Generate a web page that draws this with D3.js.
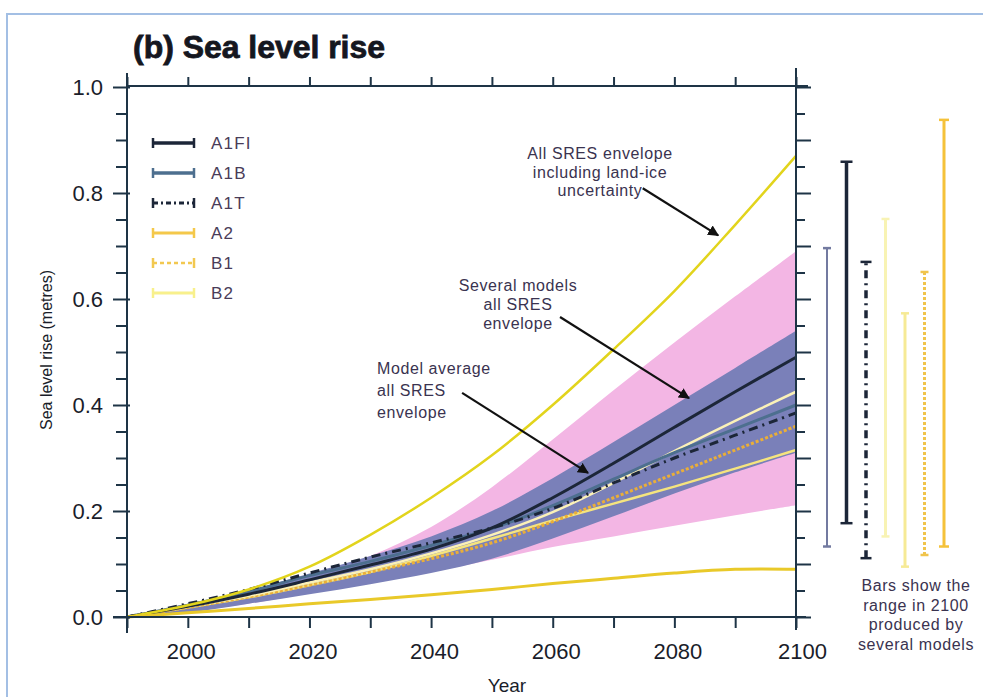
<!DOCTYPE html>
<html>
<head>
<meta charset="utf-8">
<script src="https://cdn.jsdelivr.net/npm/d3@7"></script>
<style>
  body { margin: 0; background: #fff; }
  svg { display: block; font-family: "Liberation Sans", Arial, sans-serif; }
  .axis path, .axis line { stroke: #1e3446; stroke-width: 2; }
  .axis text { fill: #1a1d2a; font-size: 22px; font-family: "Liberation Sans", Arial, sans-serif; }
  .note { fill: #3a3350; font-size: 16px; letter-spacing: 0.6px; }
</style>
</head>
<body>
<svg id="chart" width="983" height="697"></svg>
<script>
// years sampled every decade
const years = [1990, 2000, 2010, 2020, 2030, 2040, 2050, 2060, 2070, 2080, 2090, 2100];

// envelopes (metres)
const pinkUpper = [0, 0.02, 0.045, 0.075, 0.115, 0.17, 0.245, 0.335, 0.428, 0.518, 0.605, 0.69];
const pinkLower = [0, 0.01, 0.025, 0.045, 0.065, 0.085, 0.108, 0.132, 0.152, 0.172, 0.192, 0.211];
const blueUpper = [0, 0.025, 0.05, 0.082, 0.115, 0.152, 0.2, 0.262, 0.33, 0.4, 0.47, 0.54];
const blueLower = [0, 0.008, 0.025, 0.043, 0.062, 0.083, 0.11, 0.148, 0.19, 0.233, 0.273, 0.31];
const iceUpper = [0, 0.022, 0.052, 0.095, 0.155, 0.225, 0.305, 0.40, 0.505, 0.615, 0.74, 0.87];
const iceLower = [0, 0.008, 0.016, 0.025, 0.033, 0.042, 0.052, 0.063, 0.073, 0.083, 0.09, 0.09];

// scenario model averages
const a1fi = [0, 0.02, 0.043, 0.07, 0.098, 0.128, 0.168, 0.225, 0.29, 0.358, 0.425, 0.49];
const a1b = [0, 0.022, 0.048, 0.078, 0.105, 0.135, 0.167, 0.21, 0.26, 0.31, 0.355, 0.40];
const a1t = [0, 0.025, 0.052, 0.083, 0.113, 0.14, 0.168, 0.205, 0.253, 0.30, 0.343, 0.385];
const a2 = [0, 0.02, 0.04, 0.065, 0.09, 0.12, 0.155, 0.198, 0.253, 0.313, 0.37, 0.425];
const b1 = [0, 0.018, 0.038, 0.06, 0.085, 0.11, 0.14, 0.18, 0.225, 0.27, 0.315, 0.36];
const b2 = [0, 0.018, 0.037, 0.06, 0.085, 0.115, 0.148, 0.182, 0.214, 0.246, 0.28, 0.315];

// ranges in 2100 (right-hand bars)
const barKeys = ["A1B", "A1FI", "A1T", "B2", "B2b", "B1", "A2"];
const barLow = [0.133, 0.177, 0.111, 0.152, 0.095, 0.117, 0.133];
const barHigh = [0.696, 0.859, 0.67, 0.751, 0.573, 0.651, 0.938];

const legendKeys = ["A1FI", "A1B", "A1T", "A2", "B1", "B2"];
const yTicks = [0, 0.2, 0.4, 0.6, 0.8, 1.0];
const xTicks = [2000, 2020, 2040, 2060, 2080, 2100];

const styles = {
  A1FI: { color: "#1c2638", width: 3, dash: null },
  A1B: { color: "#4d6f8f", width: 3, dash: null },
  A1T: { color: "#1c2638", width: 3, dash: "9,5,2,5" },
  A2: { color: "#fbf1b8", width: 2.5, dash: null },
  B1: { color: "#eaae38", width: 3, dash: "3,2" },
  B2: { color: "#f5e47e", width: 2.5, dash: null }
};
const legendStyles = {
  A1FI: { color: "#1c2638", width: 3.5, dash: null },
  A1B: { color: "#4d6f8f", width: 3.5, dash: null },
  A1T: { color: "#1c2638", width: 3, dash: "5,3,2,3" },
  A2: { color: "#f4c84a", width: 3, dash: null },
  B1: { color: "#f2c850", width: 2.5, dash: "4,3" },
  B2: { color: "#f8f08c", width: 3, dash: null }
};
const barStyles = {
  A1B: { color: "#737aa0", width: 2, dash: null, cap: 8 },
  A1FI: { color: "#1c2638", width: 3.5, dash: null, cap: 12 },
  A1T: { color: "#1c2638", width: 3.5, dash: "8,5,2,5", cap: 11 },
  B2: { color: "#f8f3b4", width: 3, dash: null, cap: 8 },
  B2b: { color: "#f6ea96", width: 3, dash: null, cap: 8 },
  B1: { color: "#f0c44c", width: 3, dash: "3,2", cap: 8 },
  A2: { color: "#f5c23a", width: 3, dash: null, cap: 10 }
};

const svg = d3.select("#chart");

const x = d3.scaleLinear().domain([1990, 2100]).range([127, 796]);
const y = d3.scaleLinear().domain([0, 1]).range([617, 87]);

// outer frame
svg.append("rect")
  .attr("x", 7).attr("y", 14)
  .attr("width", 1000).attr("height", 700)
  .attr("fill", "none")
  .attr("stroke", "#a3bfe4")
  .attr("stroke-width", 2);

// title
svg.append("text")
  .attr("x", 133).attr("y", 58)
  .attr("font-size", 31)
  .attr("font-weight", "bold")
  .attr("fill", "#15171f")
  .attr("stroke", "#15171f")
  .attr("stroke-width", 0.8)
  .attr("textLength", 252)
  .attr("lengthAdjust", "spacingAndGlyphs")
  .text("(b) Sea level rise");

// envelopes
const area = (lo, hi) => d3.area()
  .x((d, i) => x(years[i]))
  .y0((d, i) => y(lo[i]))
  .y1((d, i) => y(hi[i]))
  .curve(d3.curveCatmullRom)(years);

svg.append("path").attr("d", area(pinkLower, pinkUpper)).attr("fill", "#f3b6e4");
svg.append("path").attr("d", area(blueLower, blueUpper)).attr("fill", "#7a80b9");

const line = d3.line()
  .x((d, i) => x(years[i]))
  .y(d => y(d))
  .curve(d3.curveCatmullRom);

// scenario lines
const series = [["B2", b2], ["B1", b1], ["A2", a2], ["A1B", a1b], ["A1T", a1t], ["A1FI", a1fi]];
series.forEach(([k, vals]) => {
  const s = styles[k];
  svg.append("path")
    .attr("d", line(vals))
    .attr("fill", "none")
    .attr("stroke", s.color)
    .attr("stroke-width", s.width)
    .attr("stroke-dasharray", s.dash);
});

// land-ice envelope lines
svg.append("path").attr("d", line(iceUpper)).attr("fill", "none")
  .attr("stroke", "#e2d41c").attr("stroke-width", 2.5);
svg.append("path").attr("d", line(iceLower)).attr("fill", "none")
  .attr("stroke", "#e9c929").attr("stroke-width", 3);

// axes
const yMinor = d3.range(0, 1.0001, 0.05).map(v => +v.toFixed(2));
const xMinor = d3.range(1990, 2101, 10);
const isMajorY = v => yTicks.some(t => Math.abs(t - v) < 1e-6);

const gl = svg.append("g").attr("class", "axis")
  .attr("transform", "translate(127,0)")
  .call(d3.axisLeft(y).tickValues(yMinor).tickSize(12).tickPadding(10)
    .tickFormat(v => isMajorY(v) ? d3.format(".1f")(v) : ""));
gl.select(".domain").remove();
gl.selectAll(".tick line").attr("x1", d => isMajorY(d) ? 3 : 0).attr("x2", d => isMajorY(d) ? -14 : -11);
gl.selectAll(".tick text").attr("x", -24);

const gr = svg.append("g").attr("class", "axis")
  .attr("transform", "translate(796,0)")
  .call(d3.axisRight(y).tickValues(yMinor).tickSize(14).tickFormat(""));
gr.select(".domain").remove();
gr.selectAll(".tick line").attr("x2", d => (Math.round(d * 100) % 10 === 0) ? 15 : 9);

const gt = svg.append("g").attr("class", "axis")
  .attr("transform", "translate(0,86)")
  .call(d3.axisTop(x).tickValues(xMinor).tickSize(9).tickFormat(""));
gt.select(".domain").remove();

const gb = svg.append("g").attr("class", "axis")
  .attr("transform", "translate(0,617)")
  .call(d3.axisBottom(x).tickValues(xMinor).tickSize(11).tickPadding(15)
    .tickFormat(v => xTicks.includes(v) ? v : ""));
gb.select(".domain").remove();
gb.selectAll(".tick text").attr("dx", d => d === 2100 ? 6 : 3);

// frame lines of the axes
const frame = svg.append("g").attr("stroke", "#1e3446").attr("stroke-width", 2);
frame.append("line").attr("x1", x(1990)).attr("x2", x(1990)).attr("y1", 73).attr("y2", 633);
frame.append("line").attr("x1", x(2100)).attr("x2", x(2100)).attr("y1", 68).attr("y2", 630);
frame.append("line").attr("x1", x(1990)).attr("x2", 808).attr("y1", 86).attr("y2", 86);
frame.append("line").attr("x1", 113).attr("x2", x(2100) + 10).attr("y1", 617).attr("y2", 617);

// axis titles
svg.append("text")
  .attr("transform", "translate(52,350) rotate(-90)")
  .attr("text-anchor", "middle")
  .attr("font-size", 16)
  .attr("fill", "#1a1d2a")
  .text("Sea level rise (metres)");
svg.append("text")
  .attr("x", 507).attr("y", 692)
  .attr("text-anchor", "middle")
  .attr("font-size", 19)
  .attr("fill", "#1a1d2a")
  .text("Year");

// legend
const legendY = d3.scalePoint().domain(legendKeys).range([143, 293]);
const lg = svg.append("g");
legendKeys.forEach(k => {
  const s = legendStyles[k];
  const yy = legendY(k);
  const g = lg.append("g").attr("stroke", s.color);
  g.append("line").attr("x1", 153).attr("x2", 194).attr("y1", yy).attr("y2", yy)
    .attr("stroke-width", s.width).attr("stroke-dasharray", s.dash);
  g.append("line").attr("x1", 153).attr("x2", 153).attr("y1", yy - 5).attr("y2", yy + 5).attr("stroke-width", 2.5);
  g.append("line").attr("x1", 194).attr("x2", 194).attr("y1", yy - 5).attr("y2", yy + 5).attr("stroke-width", 2.5);
  lg.append("text")
    .attr("x", 211).attr("y", yy + 6)
    .attr("font-size", 17)
    .attr("letter-spacing", 1.2)
    .attr("fill", "#4a3c58")
    .text(k);
});

// bars at 2100
const bx = d3.scalePoint().domain(barKeys).range([827, 944]);
barKeys.forEach((k, i) => {
  const s = barStyles[k];
  const g = svg.append("g").attr("stroke", s.color);
  g.append("line").attr("x1", bx(k)).attr("x2", bx(k))
    .attr("y1", y(barLow[i])).attr("y2", y(barHigh[i]))
    .attr("stroke-width", s.width).attr("stroke-dasharray", s.dash);
  [barLow[i], barHigh[i]].forEach(v => {
    g.append("line").attr("x1", bx(k) - s.cap / 2).attr("x2", bx(k) + s.cap / 2)
      .attr("y1", y(v)).attr("y2", y(v)).attr("stroke-width", 2.5);
  });
});

// arrows and notes
svg.append("defs").append("marker")
  .attr("id", "head").attr("viewBox", "0 0 10 10")
  .attr("refX", 9).attr("refY", 5)
  .attr("markerWidth", 5).attr("markerHeight", 5)
  .attr("orient", "auto")
  .append("path").attr("d", "M0,0L10,5L0,10z").attr("fill", "#111");

const arrows = [
  [[2074.8, 0.809], [2087.2, 0.72]],
  [[2061.2, 0.566], [2082.4, 0.413]],
  [[2045.1, 0.423], [2065.8, 0.272]]
];
arrows.forEach(([a, b]) => {
  svg.append("line")
    .attr("x1", x(a[0])).attr("y1", y(a[1]))
    .attr("x2", x(b[0])).attr("y2", y(b[1]))
    .attr("stroke", "#111").attr("stroke-width", 2.2)
    .attr("marker-end", "url(#head)");
});

function note(lines, px, py, anchor, gap) {
  const t = svg.append("text").attr("class", "note").attr("text-anchor", anchor);
  lines.forEach((l, i) => {
    t.append("tspan").attr("x", px).attr("y", py + i * gap).text(l);
  });
}
note(["All SRES envelope", "including land-ice", "uncertainty"], 600, 159, "middle", 18.5);
note(["Several models", "all SRES", "envelope"], 518, 291, "middle", 19);
note(["Model average", "all SRES", "envelope"], 377, 374, "start", 22);
note(["Bars show the", "range in 2100", "produced by", "several models"], 916, 591, "middle", 19.5);
</script>
</body>
</html>
